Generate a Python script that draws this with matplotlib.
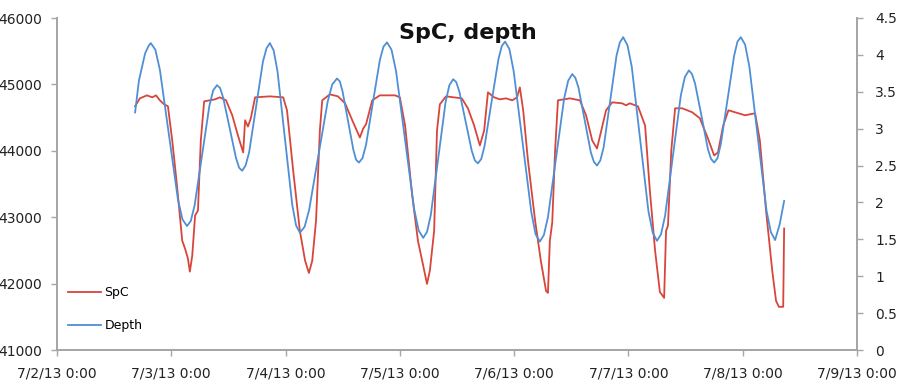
import pandas as pd
import matplotlib
matplotlib.use("Agg")
import matplotlib.pyplot as plt
import matplotlib.dates as mdates

# hours after 7/2/13 0:00 and the readings at those times
depth_hours = [16.4, 17.2, 18.5, 19.3, 19.7,
               20.65, 21.6, 23.5, 25.4, 26.35, 27.3,
               28.1, 28.9, 30.45, 32.0, 32.8, 33.6,
               34.25, 34.9, 36.25, 37.6, 38.25, 38.9,
               39.6, 40.35, 41.8, 43.25, 44.0, 44.7,
               45.5, 46.3, 47.85, 49.4, 50.2, 51.0,
               52.0, 52.95, 54.9, 56.85, 57.8, 58.8,
               59.4, 59.95, 61.1, 62.25, 62.8, 63.4,
               64.15, 64.9, 66.35, 67.8, 68.55, 69.3,
               70.25, 71.2, 73.1, 75.0, 75.95, 76.9,
               77.7, 78.5, 80.05, 81.6, 82.4, 83.2,
               83.85, 84.5, 85.8, 87.1, 87.75, 88.4,
               89.1, 89.8, 91.25, 92.7, 93.4, 94.1,
               95.0, 95.9, 97.75, 99.6, 100.5, 101.4,
               102.25, 103.1, 104.8, 106.5, 107.35, 108.2,
               108.85, 109.5, 110.8, 112.1, 112.75, 113.4,
               114.1, 114.8, 116.15, 117.5, 118.2, 118.9,
               119.8, 120.7, 122.45, 124.2, 125.1, 126.0,
               126.85, 127.7, 129.35, 131.0, 131.85, 132.7,
               133.35, 134.0, 135.35, 136.7, 137.35, 138.0,
               138.7, 139.4, 140.8, 142.2, 142.9, 143.6,
               144.5, 145.4, 147.2, 149.0, 149.9, 150.8,
               151.75, 152.7]
depth = [3.22, 3.65, 4.02, 4.13, 4.16,
         4.07, 3.80, 2.92, 2.04, 1.77, 1.68,
         1.75, 1.96, 2.64, 3.31, 3.52, 3.59,
         3.55, 3.42, 3.01, 2.60, 2.47, 2.43,
         2.50, 2.68, 3.30, 3.91, 4.09, 4.16,
         4.06, 3.78, 2.88, 1.97, 1.69, 1.59,
         1.67, 1.90, 2.64, 3.37, 3.60, 3.68,
         3.64, 3.51, 3.11, 2.71, 2.58, 2.54,
         2.60, 2.78, 3.36, 3.93, 4.11, 4.17,
         4.07, 3.78, 2.85, 1.91, 1.62, 1.52,
         1.60, 1.83, 2.60, 3.36, 3.59, 3.67,
         3.63, 3.50, 3.10, 2.70, 2.57, 2.53,
         2.59, 2.77, 3.36, 3.94, 4.12, 4.18,
         4.08, 3.78, 2.83, 1.87, 1.57, 1.47,
         1.56, 1.80, 2.61, 3.41, 3.65, 3.74,
         3.69, 3.56, 3.12, 2.68, 2.55, 2.50,
         2.57, 2.75, 3.37, 3.99, 4.17, 4.24,
         4.13, 3.84, 2.86, 1.88, 1.59, 1.48,
         1.57, 1.82, 2.64, 3.45, 3.70, 3.79,
         3.74, 3.61, 3.17, 2.72, 2.59, 2.54,
         2.60, 2.79, 3.39, 3.99, 4.18, 4.24,
         4.14, 3.84, 2.87, 1.89, 1.60, 1.49,
         1.70, 2.02]

spc_hours = [16.4, 17.4, 18.9, 20.0, 20.8, 21.6, 22.5, 23.3, 24.2, 25.2, 26.3, 26.9,
             27.5, 27.9, 28.4, 29.0, 29.6, 30.2, 30.9, 33.2, 34.2, 35.5, 36.8, 38.0,
             39.1, 39.5, 40.1, 40.7, 41.6, 44.7, 47.5, 48.3, 49.6, 51.0, 52.1, 52.9,
             53.6, 54.4, 55.2, 55.7, 57.3, 59.0, 60.5, 62.0, 63.6, 64.3, 64.9, 66.2,
             67.8, 71.0, 72.0, 73.1, 74.6, 75.8, 76.9, 77.7, 78.3, 79.2, 79.8, 80.4,
             81.7, 85.0, 86.3, 87.6, 88.8, 89.7, 90.5, 91.8, 93.0, 94.3, 95.6, 96.6,
             97.2, 97.9, 98.9, 100.4, 101.6, 102.7, 103.1, 103.5, 104.0, 104.6, 105.2,
             107.7, 109.8, 111.1, 112.4, 113.4, 114.2, 115.3, 116.6, 118.7, 119.5,
             120.3, 122.0, 123.5, 124.5, 125.6, 126.6, 127.5, 127.9, 128.3, 129.0,
             129.8, 131.3, 133.4, 135.0, 136.7, 138.0, 138.8, 139.9, 141.0, 142.4,
             144.5, 146.6, 147.6, 148.9, 150.2, 151.0, 151.6, 152.5, 152.7]
spc = [44670, 44790, 44835, 44805, 44835, 44760, 44700, 44670, 44155, 43475, 42645, 42525,
       42375, 42180, 42420, 43025, 43100, 44155, 44745, 44775, 44805, 44760, 44535, 44230,
       43975, 44460, 44365, 44490, 44805, 44820, 44805, 44610, 43700, 42795, 42345, 42160,
       42345, 42950, 44305, 44760, 44850, 44820, 44715, 44460, 44200, 44335, 44400, 44760,
       44835, 44835, 44805, 44380, 43325, 42645, 42270, 41995, 42195, 42795, 44305, 44700,
       44820, 44790, 44640, 44380, 44080, 44305, 44880, 44805, 44775, 44790, 44760, 44805,
       44955, 44610, 43855, 42950, 42345, 41890, 41860, 42645, 42920, 44005, 44760,
       44790, 44760, 44535, 44155, 44035, 44275, 44610, 44730, 44715, 44685,
       44715, 44670, 44380, 43400, 42495, 41875, 41785, 42795, 42870, 44005,
       44640, 44640, 44580, 44490, 44185, 43930, 43975, 44380, 44610, 44580,
       44535, 44565, 44155, 43100, 42195, 41740, 41650, 41650, 42830]

start = pd.Timestamp("2013-07-02")
depth_t = start + pd.to_timedelta(depth_hours, unit="h")
spc_t = start + pd.to_timedelta(spc_hours, unit="h")

grey = "#a6a6a6"
red = "#d8453b"
blue = "#4f8fd6"

fig = plt.figure(figsize=(9, 3.81), dpi=100)
ax = fig.add_axes([57 / 900, 31 / 381, 800 / 900, 332 / 381])
ax2 = ax.twinx()

l1, = ax.plot(spc_t, spc, color=red, lw=1.3, label="SpC")
l2, = ax2.plot(depth_t, depth, color=blue, lw=1.3, label="Depth")

ax.set_xlim(start, start + pd.Timedelta(days=7))
ax.set_ylim(41000, 46000)
ax2.set_ylim(0, 4.5)
ax.set_yticks(range(41000, 46001, 1000))
ax2.set_yticks([0, 0.5, 1, 1.5, 2, 2.5, 3, 3.5, 4, 4.5])
ax2.set_yticklabels(["0", "0.5", "1", "1.5", "2", "2.5", "3", "3.5", "4", "4.5"])
ax.xaxis.set_major_locator(mdates.DayLocator())
ax.xaxis.set_major_formatter(mdates.DateFormatter("%-m/%-d/%y %-H:%M"))

for a in (ax, ax2):
    a.spines["top"].set_visible(False)
    for s in ("left", "right", "bottom"):
        a.spines[s].set_color(grey)
        a.spines[s].set_linewidth(1.3)
    a.tick_params(axis="both", colors=grey, labelcolor="#222222", labelsize=10,
                  length=4, width=1)
ax.tick_params(axis="y", pad=7)
ax2.tick_params(axis="y", pad=9)
ax.tick_params(axis="x", pad=8)

ax.text(0.514, 0.955, "SpC, depth", transform=ax.transAxes, ha="center", va="center",
        fontsize=16, fontweight="bold", color="#111111")

ax.legend(handles=[l1, l2], loc="lower left", bbox_to_anchor=(0.0, 0.02),
          frameon=False, fontsize=9, handlelength=2.6, labelspacing=1.6,
          handletextpad=0.3)

fig.savefig("out.png", dpi=100)
